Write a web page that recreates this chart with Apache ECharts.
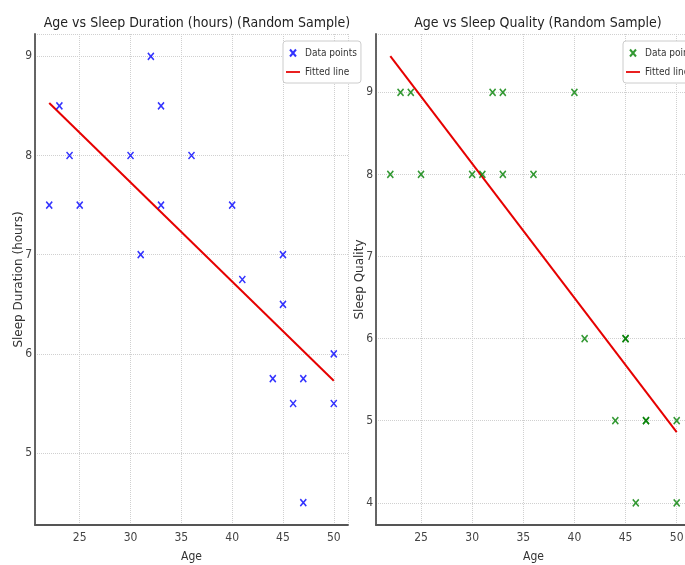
<!DOCTYPE html>
<html style="height: 100%;">
<head>
    <meta charset="utf-8">
    <script type="text/javascript" src="https://cdn.jsdelivr.net/npm/echarts@6/dist/echarts.min.js"></script>
</head>
<body style="height: 100%; margin: 0; background-color: #fff;">
    <div id="container" style="width: 685px; height: 565px;"></div>
    <script type="text/javascript">
// random sample: age vs sleep
var ages = [22, 23, 24, 25, 30, 31, 32, 33, 33, 36, 40, 41, 45, 45, 50, 44, 47, 46, 50, 47];
var sleepHours = [7.5, 8.5, 8, 7.5, 8, 7, 9, 8.5, 7.5, 8, 7.5, 6.75, 7, 6.5, 6, 5.75, 5.75, 5.5, 5.5, 4.5];
var sleepQuality = [8, 9, 9, 8, 8, 8, 9, 9, 8, 8, 9, 6, 6, 6, 5, 5, 5, 4, 4, 5];
// fitted lines, read at the ends (age 22 and 50)
var fitAges = [22, 50];
var fitHours = [8.53, 5.73];
var fitQuality = [9.44, 4.86];

var titles = ['Age vs Sleep Duration (hours) (Random Sample)', 'Age vs Sleep Quality (Random Sample)'];
var yNames = ['Sleep Duration (hours)', 'Sleep Quality'];

function pairs(xs, ys) {
    return xs.map(function (x, i) { return [x, ys[i]]; });
}

var xMark = 'path://M0,0L6,7M6,0L0,7';
var lineMark = 'path://M0,0L16,0L16,2L0,2Z';
var narrow = '"DejaVu Sans Condensed", "DejaVu Sans", sans-serif';

var dom = document.getElementById("container");
var myChart = echarts.init(dom);

function xAxisFor(i) {
    return {
        type: 'value', gridIndex: i, min: 20.6, max: 51.4,
        name: 'Age', nameLocation: 'middle', nameGap: 26, nameMoveOverlap: false,
        nameTextStyle: { color: '#333', fontSize: 12, fontFamily: narrow },
        axisLine: { lineStyle: { color: '#555', width: 1.8 } },
        axisTick: { show: false },
        axisLabel: { color: '#444', fontSize: 12, fontFamily: narrow, margin: 7, showMinLabel: false, showMaxLabel: false },
        splitLine: { lineStyle: { color: '#d0d0d0', type: 'dotted' } }
    };
}

function yAxisFor(i, min, max) {
    return {
        type: 'value', gridIndex: i, min: min, max: max,
        name: yNames[i], nameLocation: 'middle', nameGap: 10, nameMoveOverlap: false,
        nameTextStyle: { color: '#333', fontSize: 12, fontFamily: '"DejaVu Sans", sans-serif' },
        axisLine: { show: true, lineStyle: { color: '#555', width: 1.8 } },
        axisTick: { show: false },
        axisLabel: { color: '#444', fontSize: 12, fontFamily: narrow, margin: 3, showMinLabel: false, showMaxLabel: false },
        splitLine: { lineStyle: { color: '#d0d0d0', type: 'dotted' } }
    };
}

function legendFor(i, left) {
    return {
        left: left, top: 41, orient: 'vertical',
        padding: [7, 4, 6, 3], itemGap: 9, itemWidth: 14, itemHeight: 7,
        borderColor: '#ccc', borderWidth: 1, borderRadius: 3, backgroundColor: '#fff',
        textStyle: { color: '#333', fontSize: 10, fontFamily: narrow },
        formatter: function (n) { return n.split('|')[0]; },
        data: [
            { name: 'Data points|' + i, icon: xMark },
            { name: 'Fitted line|' + i, icon: lineMark }
        ]
    };
}

function scatterFor(i, ys, color) {
    return {
        name: 'Data points|' + i, type: 'scatter', xAxisIndex: i, yAxisIndex: i,
        symbol: xMark, symbolSize: [6, 7],
        itemStyle: { color: color, borderColor: color, borderWidth: 1.6 },
        data: pairs(ages, ys), z: 3
    };
}

function fitFor(i, ys) {
    return {
        name: 'Fitted line|' + i, type: 'line', xAxisIndex: i, yAxisIndex: i,
        showSymbol: false, symbol: 'none',
        itemStyle: { color: '#e60000' },
        lineStyle: { color: '#e60000', width: 2 },
        data: pairs(fitAges, ys), z: 2
    };
}

option = {
    animation: false,
    title: [
        { text: titles[0], left: 192, top: 11, textAlign: 'center',
          textStyle: { color: '#222', fontWeight: 'normal', fontSize: 14, fontFamily: narrow } },
        { text: titles[1], left: 533, top: 11, textAlign: 'center',
          textStyle: { color: '#222', fontWeight: 'normal', fontSize: 14, fontFamily: narrow } }
    ],
    legend: [legendFor(0, 283), legendFor(1, 623)],
    grid: [
        { left: 35, top: 34, width: 313, bottom: 40, outerBoundsMode: 'none' },
        { left: 376, top: 34, width: 315, bottom: 40, outerBoundsMode: 'none' }
    ],
    xAxis: [xAxisFor(0), xAxisFor(1)],
    yAxis: [yAxisFor(0, 4.275, 9.225), yAxisFor(1, 3.73, 9.71)],
    series: [
        scatterFor(0, sleepHours, '#0000ff'),
        fitFor(0, fitHours),
        scatterFor(1, sleepQuality, '#008000'),
        fitFor(1, fitQuality)
    ]
};

myChart.setOption(option, true);
    </script>
</body>
</html>
